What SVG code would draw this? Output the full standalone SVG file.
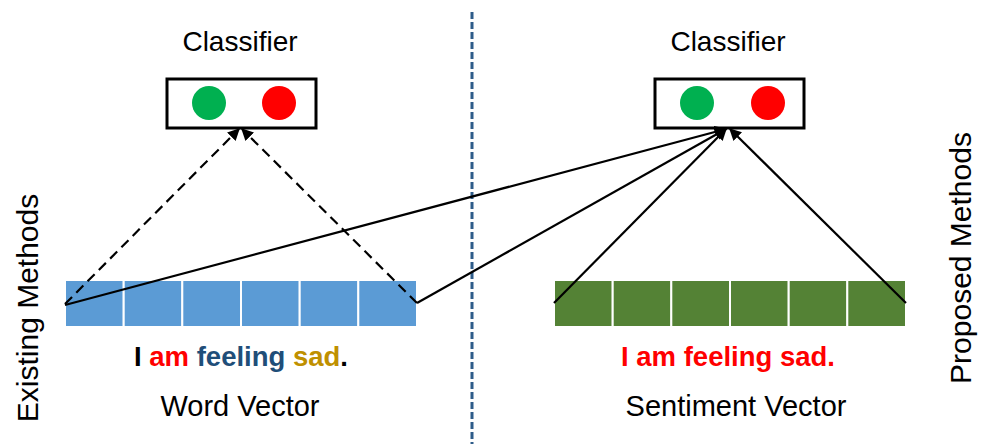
<svg xmlns="http://www.w3.org/2000/svg" width="984" height="444" viewBox="0 0 984 444">
  <style>
    text { font-family: "Liberation Sans", Arial, sans-serif; fill: #000; }
    .title { font-size: 28px; }
    .label { font-size: 29px; }
    .side { font-size: 30px; }
    .sent { font-size: 27.5px; font-weight: bold; }
    .frame { fill: #fff; stroke: #000; stroke-width: 3; }
    .cell-blue { fill: #5B9BD5; stroke: #fff; stroke-width: 2; }
    .cell-green { fill: #548235; stroke: #fff; stroke-width: 2; }
    .conn { fill: none; stroke: #000; stroke-width: 2.2; marker-end: url(#arrow); }
    .dash { stroke-dasharray: 10 6; }
    .divider { stroke: #2E5C8A; stroke-width: 3; stroke-dasharray: 7 3; }
  </style>
  <defs>
    <marker id="arrow" viewBox="0 0 10 10" refX="9" refY="5" markerWidth="5.5" markerHeight="5.5" orient="auto-start-reverse" markerUnits="strokeWidth">
      <path d="M0,0 L10,5 L0,10 z" fill="#000"/>
    </marker>
  </defs>

  <!-- divider between the two approaches -->
  <line class="divider" x1="472" y1="12" x2="472" y2="444"/>

  <!-- left classifier -->
  <g id="classifier-left">
    <text class="title" x="240" y="51" text-anchor="middle">Classifier</text>
    <rect class="frame" x="167" y="79" width="149" height="49"/>
    <circle cx="209" cy="103" r="17" fill="#00B050"/>
    <circle cx="279" cy="103" r="17" fill="#FF0000"/>
  </g>

  <!-- right classifier -->
  <g id="classifier-right">
    <text class="title" x="728" y="51" text-anchor="middle">Classifier</text>
    <rect class="frame" x="655" y="79" width="149" height="49"/>
    <circle cx="697" cy="103" r="17" fill="#00B050"/>
    <circle cx="768" cy="103" r="17" fill="#FF0000"/>
  </g>

  <!-- word vector -->
  <g id="word-vector">
    <rect class="cell-blue" x="65" y="280" width="58.7" height="47"/>
    <rect class="cell-blue" x="123.7" y="280" width="58.7" height="47"/>
    <rect class="cell-blue" x="182.3" y="280" width="58.7" height="47"/>
    <rect class="cell-blue" x="241" y="280" width="58.7" height="47"/>
    <rect class="cell-blue" x="299.7" y="280" width="58.7" height="47"/>
    <rect class="cell-blue" x="358.3" y="280" width="58.7" height="47"/>
    <text class="sent" x="241" y="366" text-anchor="middle"><tspan fill="#000">I </tspan><tspan fill="#FF0000">am </tspan><tspan fill="#1F4E79">feeling </tspan><tspan fill="#BF9000">sad</tspan><tspan fill="#000">.</tspan></text>
    <text class="label" x="240" y="416" text-anchor="middle">Word Vector</text>
  </g>

  <!-- sentiment vector -->
  <g id="sentiment-vector">
    <rect class="cell-green" x="554" y="280" width="58.7" height="47"/>
    <rect class="cell-green" x="612.7" y="280" width="58.7" height="47"/>
    <rect class="cell-green" x="671.3" y="280" width="58.7" height="47"/>
    <rect class="cell-green" x="730" y="280" width="58.7" height="47"/>
    <rect class="cell-green" x="788.7" y="280" width="58.7" height="47"/>
    <rect class="cell-green" x="847.3" y="280" width="58.7" height="47"/>
    <text class="sent" x="728" y="366" text-anchor="middle" style="fill:#FF0000">I am feeling sad.</text>
    <text class="label" x="736" y="416" text-anchor="middle">Sentiment Vector</text>
  </g>

  <!-- side labels -->
  <g id="label-existing">
    <text class="side" transform="translate(38 308) rotate(-90)" text-anchor="middle">Existing Methods</text>
  </g>
  <g id="label-proposed">
    <text class="side" transform="translate(971 258) rotate(-90)" text-anchor="middle">Proposed Methods</text>
  </g>

  <!-- connectors -->
  <g id="connectors">
    <path class="conn dash" d="M65,304 L239,129"/>
    <path class="conn dash" d="M417,303 L242,129"/>
    <path class="conn" d="M65,305 L726,129"/>
    <path class="conn" d="M417,303 L726,129"/>
    <path class="conn" d="M554,303 L726,129"/>
    <path class="conn" d="M906,303 L730,129"/>
  </g>
</svg>
